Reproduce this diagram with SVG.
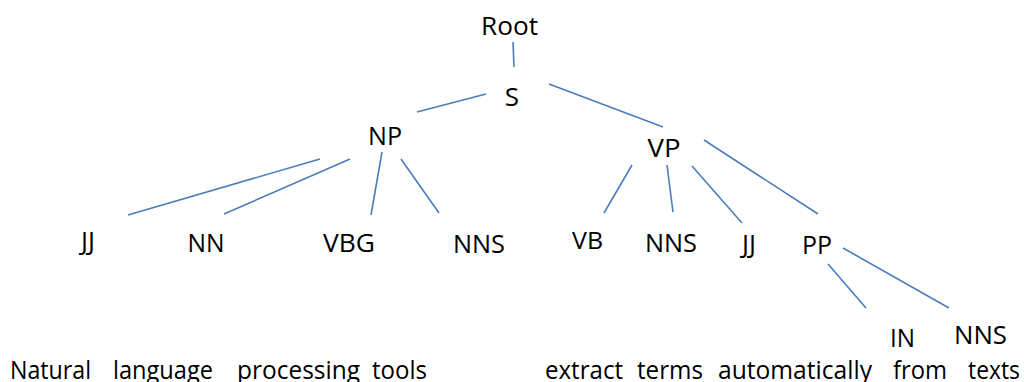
<svg xmlns="http://www.w3.org/2000/svg" width="1024" height="382" viewBox="0 0 1024 382">
<style>
.lbl{font-family:"Open Sans","Liberation Sans",sans-serif;font-size:26px;fill:#000;text-anchor:middle}
.w{font-family:"Open Sans","Liberation Sans",sans-serif;font-size:25px;fill:#000}
.e{stroke:#4a7ebb;stroke-width:1.6;fill:none}
</style>
<rect width="1024" height="382" fill="#fff"/>
<g id="connectors">
<line class="e" x1="513" y1="42" x2="514" y2="67"/>
<line class="e" x1="486" y1="94" x2="417" y2="112"/>
<line class="e" x1="549" y1="84" x2="663" y2="127"/>
<line class="e" x1="320" y1="159" x2="128" y2="215"/>
<line class="e" x1="350" y1="159" x2="224" y2="214"/>
<line class="e" x1="382" y1="152" x2="371" y2="215"/>
<line class="e" x1="401" y1="159" x2="439" y2="213"/>
<line class="e" x1="632" y1="165" x2="604" y2="213"/>
<line class="e" x1="667" y1="165" x2="673" y2="212"/>
<line class="e" x1="692" y1="166" x2="742" y2="223"/>
<line class="e" x1="704" y1="140" x2="818" y2="214"/>
<line class="e" x1="828" y1="264" x2="866" y2="308"/>
<line class="e" x1="843" y1="248" x2="949" y2="308"/>
</g>
<g id="root"><text class="lbl" x="509.5" y="35" textLength="57" lengthAdjust="spacingAndGlyphs">Root</text></g>
<g id="s"><text class="lbl" x="512" y="106">S</text></g>
<g id="np"><text class="lbl" x="385" y="145" textLength="34" lengthAdjust="spacingAndGlyphs">NP</text></g>
<g id="vp"><text class="lbl" x="664" y="157" textLength="33" lengthAdjust="spacingAndGlyphs">VP</text></g>
<g id="jj1"><text class="lbl" x="88" y="250">JJ</text></g>
<g id="nn"><text class="lbl" x="206" y="252" textLength="37" lengthAdjust="spacingAndGlyphs">NN</text></g>
<g id="vbg"><text class="lbl" x="349" y="252" textLength="52" lengthAdjust="spacingAndGlyphs">VBG</text></g>
<g id="nns1"><text class="lbl" x="479" y="253" textLength="52" lengthAdjust="spacingAndGlyphs">NNS</text></g>
<g id="vb"><text class="lbl" x="587.5" y="249" textLength="31" lengthAdjust="spacingAndGlyphs" style="font-size:24px">VB</text></g>
<g id="nns2"><text class="lbl" x="671" y="252" textLength="52" lengthAdjust="spacingAndGlyphs">NNS</text></g>
<g id="jj2"><text class="lbl" x="749" y="253">JJ</text></g>
<g id="pp"><text class="lbl" x="817" y="254" textLength="30" lengthAdjust="spacingAndGlyphs">PP</text></g>
<g id="in"><text class="lbl" x="902.5" y="347" textLength="25" lengthAdjust="spacingAndGlyphs">IN</text></g>
<g id="nns3"><text class="lbl" x="980.5" y="344" textLength="53" lengthAdjust="spacingAndGlyphs">NNS</text></g>
<g id="sentence">
<text class="w" x="10" y="379" textLength="81" lengthAdjust="spacingAndGlyphs">Natural</text>
<text class="w" x="113" y="379" textLength="100" lengthAdjust="spacingAndGlyphs">language</text>
<text class="w" x="237" y="379" textLength="123" lengthAdjust="spacingAndGlyphs">processing</text>
<text class="w" x="372" y="379" textLength="55" lengthAdjust="spacingAndGlyphs">tools</text>
<text class="w" x="545" y="379" textLength="78" lengthAdjust="spacingAndGlyphs">extract</text>
<text class="w" x="637" y="379" textLength="66" lengthAdjust="spacingAndGlyphs">terms</text>
<text class="w" x="718" y="379" textLength="154" lengthAdjust="spacingAndGlyphs">automatically</text>
<text class="w" x="893" y="379" textLength="54" lengthAdjust="spacingAndGlyphs">from</text>
<text class="w" x="968" y="379" textLength="52" lengthAdjust="spacingAndGlyphs">texts</text>
</g>
</svg>
